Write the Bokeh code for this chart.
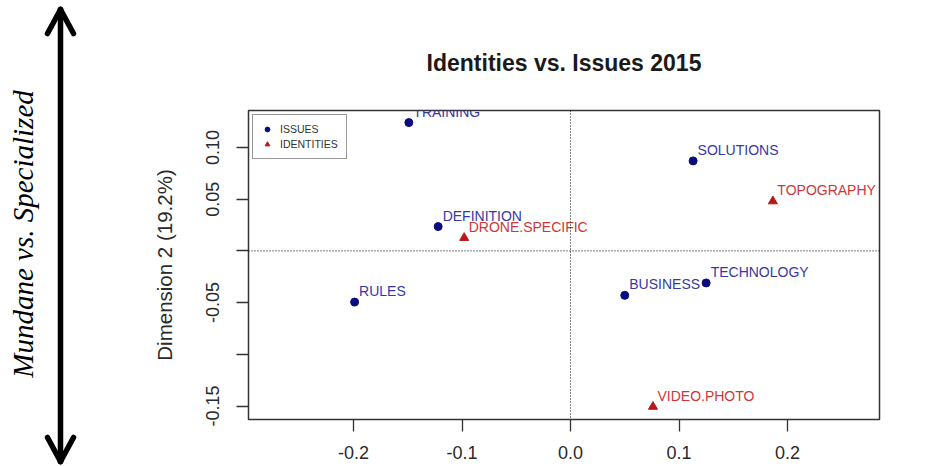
import math
from bokeh.plotting import figure
from bokeh.layouts import row, column
from bokeh.models import (Range1d, FixedTicker, Span,
                          ColumnDataSource, Legend, LegendItem)
from bokeh.core.properties import value
from bokeh.embed import file_html
from bokeh.resources import INLINE

# ---------------- data ----------------
issue_names = ["TRAINING", "SOLUTIONS", "DEFINITION", "RULES", "BUSINESS", "TECHNOLOGY"]
issue_x = [-0.149, 0.113, -0.122, -0.199, 0.050, 0.125]
issue_y = [0.124, 0.087, 0.0235, -0.0495, -0.043, -0.031]

ident_names = ["TOPOGRAPHY", "DRONE.SPECIFIC", "VIDEO.PHOTO"]
ident_x = [0.1865, -0.098, 0.076]
ident_y = [0.048, 0.0126, -0.1506]

x_ticks = [-0.2, -0.1, 0.0, 0.1, 0.2]
x_tick_labels = ["-0.2", "-0.1", "0.0", "0.1", "0.2"]
y_ticks = [-0.15, -0.10, -0.05, 0.0, 0.05, 0.10]
y_tick_labels = ["-0.15", "", "-0.05", "", "0.05", "0.10"]

title_text = "Identities vs. Issues 2015"
y_label = "Dimension 2 (19.2%)"
side_text = "Mundane vs. Specialized"
legend_labels = ["ISSUES", "IDENTITIES"]

FONT = "Liberation Sans"
BLUE_PT = "#0b0b80"
BLUE_TX = "#3838a2"
RED_PT = "#b81818"
RED_TX = "#cc3838"

W, H = 945, 466
LW = 130

# ---------------- left decoration panel (pixel-like coordinates) ----------
left = figure(width=LW, height=H, x_range=Range1d(0, LW), y_range=Range1d(H, 0),
              x_axis_type=None, y_axis_type=None, toolbar_location=None,
              output_backend="svg", min_border=0)
left.outline_line_color = None
left.grid.visible = False
ax_c, top_tip, bot_tip, head_w, head_l = 60, 9, 461, 13, 24
seg_x0 = [ax_c, ax_c, ax_c, ax_c, ax_c]
seg_y0 = [top_tip, top_tip, top_tip, bot_tip, bot_tip]
seg_x1 = [ax_c, ax_c - head_w, ax_c + head_w, ax_c - head_w, ax_c + head_w]
seg_y1 = [bot_tip, top_tip + head_l, top_tip + head_l, bot_tip - head_l, bot_tip - head_l]
left.segment(x0=seg_x0, y0=seg_y0, x1=seg_x1, y1=seg_y1, line_color="black",
             line_width=5.5, line_cap="round")
left.text(x=[22.5], y=[233.5], text=[side_text], angle=math.pi / 2,
          text_font=value("Liberation Serif"), text_font_style="italic",
          text_font_size="29px", text_align="center", text_baseline="middle",
          text_color="black")

# ---------------- main chart ----------------
p = figure(width=W - LW, height=H, x_range=Range1d(-0.2968, 0.2848),
           y_range=Range1d(-0.163, 0.1357), toolbar_location=None,
           output_backend="svg", min_border_left=248 - LW, min_border_right=66,
           min_border_top=110, min_border_bottom=47)
p.grid.visible = False
p.outline_line_color = "#333333"
p.outline_line_width = 1.5

p.title.text = title_text
p.title.text_font = FONT
p.title.text_font_style = "bold"
p.title.text_font_size = "23px"
p.title.align = "center"
p.title.text_color = "#1a1a1a"
p.title.standoff = 70

xa = p.xaxis[0]
xa.ticker = FixedTicker(ticks=x_ticks)
xa.major_label_overrides = {t: l for t, l in zip(x_ticks, x_tick_labels)}
ya = p.yaxis[0]
ya.ticker = FixedTicker(ticks=y_ticks)
ya.major_label_overrides = {t: l for t, l in zip(y_ticks, y_tick_labels)}
ya.major_label_orientation = "vertical"
ya.axis_label = y_label
for ax in (xa, ya):
    ax.axis_line_color = None
    ax.major_tick_line_color = "#333333"
    ax.major_tick_line_width = 1.3
    ax.major_tick_out = 12
    ax.major_tick_in = 0
    ax.minor_tick_line_color = None
    ax.major_label_text_font = FONT
    ax.major_label_text_font_size = "18px"
    ax.major_label_text_color = "#2a2a2a"
xa.major_label_standoff = 14
ya.major_label_standoff = 17
ya.axis_label_text_font = FONT
ya.axis_label_text_font_size = "20.5px"
ya.axis_label_text_font_style = "normal"
ya.axis_label_text_color = "#2a2a2a"
ya.axis_label_standoff = 28

p.add_layout(Span(location=0, dimension="width", line_color="black",
                  line_dash="1 2", line_width=1))
p.add_layout(Span(location=0, dimension="height", line_color="black",
                  line_dash="1 2", line_width=1))

src_i = ColumnDataSource(dict(x=issue_x, y=issue_y, name=issue_names))
src_d = ColumnDataSource(dict(x=ident_x, y=ident_y, name=ident_names))

r_i = p.scatter("x", "y", source=src_i, marker="circle", size=8,
                fill_color=BLUE_PT, line_color=BLUE_PT)
r_d = p.scatter("x", "y", source=src_d, marker="triangle", size=9,
                fill_color=RED_PT, line_color=RED_PT)

p.text("x", "y", text="name", source=src_i, x_offset=4.5, y_offset=-11,
       text_font=value(FONT), text_font_size="14px", text_color=BLUE_TX,
       text_align="left", text_baseline="middle")
p.text("x", "y", text="name", source=src_d, x_offset=4.5, y_offset=-11,
       text_font=value(FONT), text_font_size="14px", text_color=RED_TX,
       text_align="left", text_baseline="middle")

legend = Legend(items=[LegendItem(label=legend_labels[0], renderers=[r_i]),
                       LegendItem(label=legend_labels[1], renderers=[r_d])],
                location="top_left", margin=4, padding=8, spacing=3,
                glyph_width=12, glyph_height=12, label_height=12,
                label_standoff=7, label_text_font=FONT,
                label_text_font_size="10.5px", label_text_color="#333333",
                border_line_color="#333333", border_line_width=1.5,
                background_fill_color="white", background_fill_alpha=1)
p.add_layout(legend)

layout = row(column(left), p)
open("out.html", "w").write(file_html(layout, INLINE))
